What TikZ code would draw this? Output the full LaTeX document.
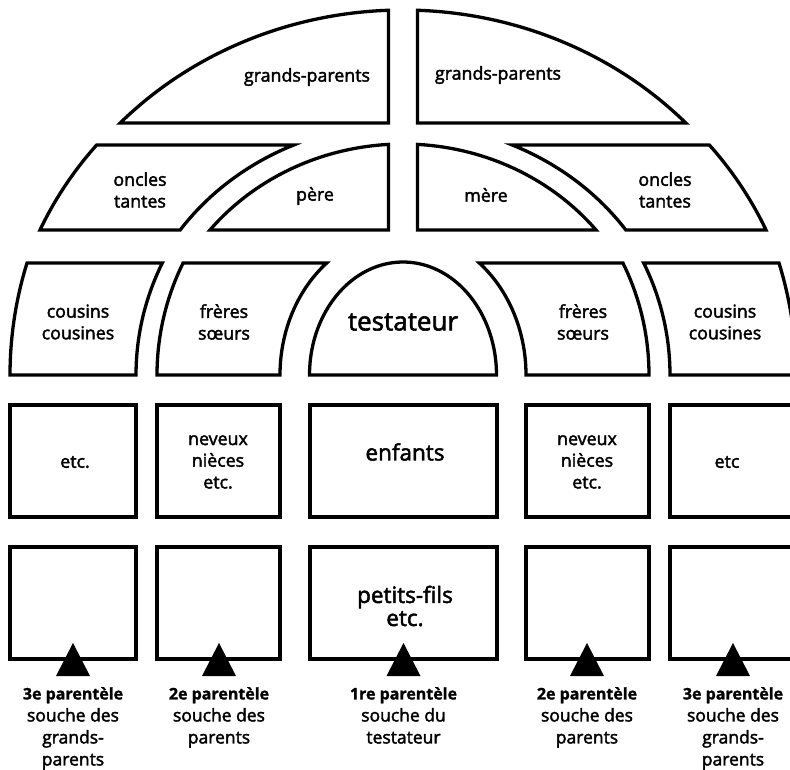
\documentclass[tikz,border=0pt]{standalone}
\usepackage{fontspec}
\setmainfont{Open Sans}
\newfontfamily\medfont{Open Sans}[FakeBold=2.2]
\newfontfamily\boldcap{Open Sans Bold}[FakeBold=1.2]
\newcommand\ringshape[7]{% side, h1, h2, ai, bi, ao, bo
  \pgfmathsetmacro\rsA{asin(#2/#7)}%
  \pgfmathsetmacro\rsB{asin(#3/#7)}%
  \pgfmathsetmacro\rsC{asin(#3/#5)}%
  \pgfmathsetmacro\rsD{asin(#2/#5)}%
  \draw[shp] plot[domain=\rsA:\rsB, samples=50] ({403-(#1)*#6*cos(\x)},{375-#7*sin(\x)})
    -- plot[domain=\rsC:\rsD, samples=50] ({403-(#1)*#4*cos(\x)},{375-#5*sin(\x)}) -- cycle;
}
\newcommand\capshape[5]{% side, h1, a, b, gap
  \pgfmathsetmacro\rsA{asin(#2/#4)}%
  \pgfmathsetmacro\rsB{acos(#5/#3)}%
  \draw[shp] plot[domain=\rsA:\rsB, samples=60] ({403-(#1)*#3*cos(\x)},{375-#4*sin(\x)})
    -- ({403-(#1)*#5},{375-#2}) -- cycle;
}
\begin{document}
\begin{tikzpicture}[x=1pt,y=-1pt]
\tikzset{
  shp/.style={draw=black, fill=white, line width=3.3pt, line join=miter},
  lbl/.style={font=\medfont\fontsize{17.8}{21.7}\selectfont, align=center, inner sep=0pt},
  biglbl/.style={font=\medfont\fontsize{22.5}{23}\selectfont, align=center, inner sep=0pt},
  caplbl/.style={font=\medfont\fontsize{17.5}{22}\selectfont, align=center, inner sep=0pt, anchor=north},
  tri/.style={fill=black, draw=none}
}
\newcommand\capfirst[1]{{\boldcap\fontsize{16}{22}\selectfont #1}}
\useasboundingbox (0,0) rectangle (790,770);
\clip (0,0) rectangle (790,770);

% row 1: grands-parents
\capshape{1}{252}{391}{365}{14.5}
\capshape{-1}{252}{391}{365}{14.5}
% row 2: oncles / pere / mere
\ringshape{1}{145}{230}{273}{251}{396}{363}
\ringshape{-1}{145}{230}{273}{251}{396}{363}
\capshape{1}{145}{248}{231}{14.5}
\capshape{-1}{145}{248}{231}{14.5}
% row 3: cousins / freres / testateur
\ringshape{1}{0}{112}{267}{258.8}{393}{385}
\ringshape{-1}{0}{112}{267}{258.8}{393}{385}
\ringshape{1}{0}{112}{123}{142.8}{246}{250}
\ringshape{-1}{0}{112}{123}{142.8}{246}{250}
\draw[shp] plot[domain=0:180, samples=80] ({403-93.5*cos(\x)},{375-113*sin(\x)}) -- cycle;

% rows 4 and 5
\foreach \xa/\xb in {10/136,157/280,310/497,526/649,670/796}{
  \draw[shp] (\xa,405) rectangle (\xb,517);
  \draw[shp] (\xa,547) rectangle (\xb,659);
}
% triangles
\foreach \cx in {73,219,403.5,587,733}{
  \fill[tri] (\cx,643) -- (\cx+17,676) -- (\cx-17,676) -- cycle;
}

% texts
\node[lbl] (gpl) at (307,77) {grands-parents};
\node[lbl] (gpr) at (498,75) {grands-parents};
\node[lbl] (otl) at (140,190) {oncles\\tantes};
\node[lbl] (pere) at (315,196) {père};
\node[lbl] (mere) at (486,195) {mère};
\node[lbl] (otr) at (665,190) {oncles\\tantes};
\node[lbl] (ccl) at (78,322) {cousins\\cousines};
\node[lbl] (fsl) at (224,322) {frères\\sœurs};
\node[biglbl, font=\medfont\fontsize{26}{28}\selectfont] (test) at (403,322) {testateur};
\node[lbl] (fsr) at (583,322) {frères\\sœurs};
\node[lbl] (ccr) at (725,322) {cousins\\cousines};
\node[lbl] (etcl) at (75,462) {etc.};
\node[lbl] (nnl) at (218,462) {neveux\\nièces\\etc.};
\node[biglbl] (enf) at (405,452) {enfants};
\node[lbl] (nnr) at (587,462) {neveux\\nièces\\etc.};
\node[lbl] (etcr) at (727,462) {etc};
\node[biglbl] (pf) at (405,606) {petits-fils\\etc.};
\node[caplbl] (c1) at (73,687) {\capfirst{3e parentèle}\\souche des\\grands-\\parents};
\node[caplbl] (c2) at (219,687) {\capfirst{2e parentèle}\\souche des\\parents};
\node[caplbl] (c3) at (403.5,687) {\capfirst{1re parentèle}\\souche du\\testateur};
\node[caplbl] (c4) at (587,687) {\capfirst{2e parentèle}\\souche des\\parents};
\node[caplbl] (c5) at (733,687) {\capfirst{3e parentèle}\\souche des\\grands-\\parents};
\end{tikzpicture}
\end{document}
